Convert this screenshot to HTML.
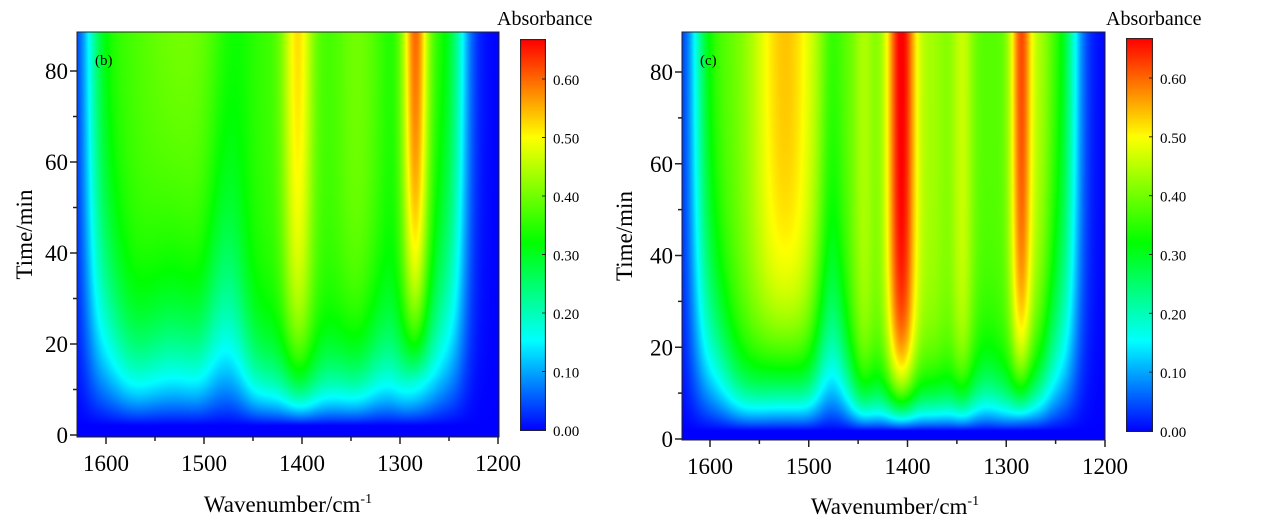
<!DOCTYPE html>
<html><head><meta charset="utf-8">
<style>
body{margin:0;background:#fff;width:1267px;height:526px;overflow:hidden;position:relative;font-family:"Liberation Serif",serif;color:#111}
canvas{position:absolute}
</style></head><body>
<canvas id="pb" width="422" height="405" style="left:77px;top:32px"></canvas>
<canvas id="cb1" width="26" height="392" style="left:520px;top:39px"></canvas>
<canvas id="pc" width="423" height="408" style="left:682px;top:32px"></canvas>
<canvas id="cb2" width="27" height="394" style="left:1126px;top:38px"></canvas>
<svg id="ov" width="1267" height="526" style="position:absolute;left:0;top:0" font-family="Liberation Serif, serif"></svg>
<script>
function cmap(x){x=Math.max(0,Math.min(1,x));
var s=[[0,0,0,255],[0.23,0,255,255],[0.48,0,255,0],[0.75,255,255,0],[1,255,0,0]];
for(var i=1;i<s.length;i++){if(x<=s[i][0]){var a=s[i-1],b=s[i],f=(x-a[0])/(b[0]-a[0]);return [a[1]+(b[1]-a[1])*f,a[2]+(b[2]-a[2])*f,a[3]+(b[3]-a[3])*f];}}return [255,0,0];}
function g(w,c,s){return Math.exp(-0.5*((w-c)/s)*((w-c)/s));}
function sig(x){return 1/(1+Math.exp(-x));}
function grow(t,tau,d){var x=Math.max(0,t-(d||1.5));return 1-Math.exp(-x/tau);}
function Ab(w,t){
 var box=sig((1617-w)/7)*sig((w-1238)/7);
 var tau=12+16*g(w,1480,14)+10*g(w,1530,25)-3*g(w,1400,15)+3*g(w,1320,12)+22*(1-sig((1592-w)/10))+22*(1-sig((w-1262)/10));
 var base=(0.36+0.05*g(w,1525,30)+0.04*g(w,1345,15)-0.03*g(w,1465,12)-0.02*g(w,1310,8))*box*grow(t,tau,2.5);
 var pk=(0.17*g(w,1405,11)*grow(t,30,3)+0.26*g(w,1285,9)*grow(t,30,12))*box;
 return base+pk;}
function Ac(w,t){
 var box=sig((1615-w)/7)*sig((w-1232)/7);
 var tau=8+13*g(w,1478,12)+7*g(w,1525,25)+2*g(w,1320,10)+20*(1-sig((1590-w)/10))+20*(1-sig((w-1255)/10));
 var base=(0.38+0.16*g(w,1525,25)+0.06*g(w,1445,8)+0.08*g(w,1345,8)+0.05*g(w,1375,12)-0.04*g(w,1478,8)+0.05*g(w,1265,8))*box*grow(t,tau,2);
 var pk=0.29*g(w,1407,11)*box*grow(t,13,2)+0.24*g(w,1285,8)*box*grow(t,20,4);
 return base+pk;}
function draw(id,fn,W0,W1,T0,T1,vmax){
 var c=document.getElementById(id),ctx=c.getContext('2d'),W=c.width,H=c.height,im=ctx.createImageData(W,H);
 for(var y=0;y<H;y++){var t=T1-(y+0.5)/H*(T1-T0);
  for(var x=0;x<W;x++){var w=W0+(x+0.5)/W*(W1-W0);var col=cmap(fn(w,t)/vmax);var i=(y*W+x)*4;
   im.data[i]=col[0];im.data[i+1]=col[1];im.data[i+2]=col[2];im.data[i+3]=255;}}
 ctx.putImageData(im,0,0);}
function bar(id){var c=document.getElementById(id),ctx=c.getContext('2d');
 for(var y=0;y<c.height;y++){var col=cmap(1-y/(c.height-1));ctx.fillStyle='rgb('+col.map(Math.round)+')';ctx.fillRect(0,y,c.width,1);}
 ctx.strokeStyle='#222';ctx.lineWidth=1;ctx.strokeRect(0.5,0.5,c.width-1,c.height-1);}
draw('pb',Ab,1630,1200,0,88.3,0.667);
draw('pc',Ac,1630,1200,0,88.5,0.667);
bar('cb1');bar('cb2');
var s='';
function axes(L,T,R,B,x1600,x1200,y0,y80,lab,cbx,cby0,cby60,cbtop,cbw,absx,titx,wavx,wavy){
 s+='<rect x="'+L+'" y="'+T+'" width="'+(R-L)+'" height="'+(B-T)+'" fill="none" stroke="#222" stroke-width="1"/>';
 var dx=(x1200-x1600)/400;
 for(var v=1200;v<=1625;v+=50){var x=x1600+(1600-v)*dx;var mj=v%100==0;
  s+='<line x1="'+x+'" y1="'+B+'" x2="'+x+'" y2="'+(B+(mj?7:4))+'" stroke="#222" stroke-width="1.5"/>';
  if(mj)s+='<text x="'+x+'" y="'+(B+34)+'" font-size="23" text-anchor="middle">'+v+'</text>';}
 var dy=(y0-y80)/80;
 for(var v=0;v<=85;v+=10){var y=y0-v*dy;var mj=v%20==0;
  s+='<line x1="'+L+'" y1="'+y+'" x2="'+(L-(mj?7:4))+'" y2="'+y+'" stroke="#222" stroke-width="1.5"/>';
  if(mj)s+='<text x="'+(L-9)+'" y="'+(y+8)+'" font-size="23" text-anchor="end">'+v+'</text>';}
 s+='<text x="'+(L+18)+'" y="'+(T+33)+'" font-size="15">'+lab+'</text>';
 var cd=(cby0-cby60)/6;
 for(var i=0;i<=6;i++){var y=cby0-i*cd;
  s+='<line x1="'+(cbx+cbw-4)+'" y1="'+y+'" x2="'+(cbx+cbw)+'" y2="'+y+'" stroke="#222"/>';
  s+='<text x="'+(cbx+cbw+7)+'" y="'+(y+6)+'" font-size="15">'+(i/10).toFixed(2)+'</text>';}
 s+='<text x="'+absx+'" y="25" font-size="20">Absorbance</text>';
 s+='<text transform="translate('+titx+','+((T+B)/2)+') rotate(-90)" font-size="23" text-anchor="middle">Time/min</text>';
 s+='<text x="'+wavx+'" y="'+wavy+'" font-size="23" text-anchor="middle">Wavenumber/cm<tspan dy="-9" font-size="14">-1</tspan></text>';
}
axes(77,32,499,437,106,498,435,71,'(b)',520,430,79,39,26,497,32,288,512);
axes(682,32,1105,440,710,1105,439,72,'(c)',1126,431,78,38,27,1106,632,895,514);
document.getElementById('ov').innerHTML=s;
</script>
</body></html>
